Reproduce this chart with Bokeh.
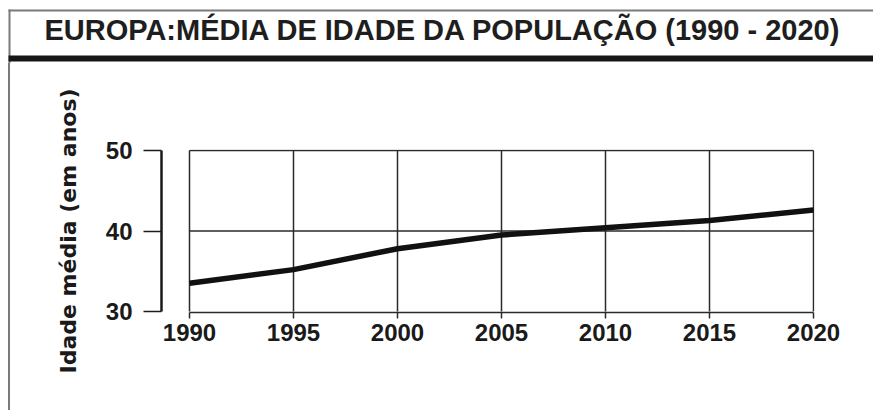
from bokeh.plotting import figure
from bokeh.models import Range1d, Label, BoxAnnotation, FixedTicker, Div
from bokeh.layouts import column, row
from bokeh.embed import file_html
from bokeh.resources import INLINE

# ---- data ----
years = [1990, 1995, 2000, 2005, 2010, 2015, 2020]
median_age = [33.5, 35.2, 37.8, 39.5, 40.4, 41.3, 42.6]
x_ticks = [1990, 1995, 2000, 2005, 2010, 2015, 2020]
y_ticks = [30, 40, 50]
y_grid = [40, 50]
title_text = "EUROPA:MÉDIA DE IDADE DA POPULAÇÃO (1990 - 2020)"
y_title = "Idade média (em anos)"

W, H = 873, 410
HEAD_H = 63
STRIP_W = 10
BORDER = "#7a7a7a"


def blank_fig(w, h):
    f = figure(width=w, height=h, output_backend="svg", toolbar_location=None,
               x_range=Range1d(0, w), y_range=Range1d(h, 0),
               x_axis_type=None, y_axis_type=None,
               min_border=0, min_border_left=0, min_border_right=0,
               min_border_top=0, min_border_bottom=0)
    f.outline_line_color = None
    f.grid.visible = False
    f.background_fill_color = "white"
    f.border_fill_color = "white"
    return f


# ---- header (title box) ----
head = blank_fig(W, HEAD_H)
head.add_layout(BoxAnnotation(left=8, right=W, top=9, bottom=11,
                              fill_color=BORDER, fill_alpha=1, line_color=None))
head.add_layout(BoxAnnotation(left=8, right=10, top=9, bottom=HEAD_H,
                              fill_color=BORDER, fill_alpha=1, line_color=None))
head.add_layout(BoxAnnotation(left=8, right=W, top=55, bottom=61,
                              fill_color="#161616", fill_alpha=1, line_color=None))
head.add_layout(Label(x=442.5, y=29, text=title_text, text_align="center",
                      text_baseline="alphabetic", text_font="Liberation Sans",
                      text_font_style="bold", text_font_size="29px", text_color="#1e1e1e"))

# ---- left border strip (plain HTML, no plot frame alignment) ----
MAIN_H = H - HEAD_H
strip = Div(text="", width=STRIP_W, height=MAIN_H, margin=(0, 0, 0, 0),
            styles={"box-sizing": "border-box", "padding": "0",
                    "border-right": "2px solid " + BORDER})

# ---- main chart ----
MW = W - STRIP_W
FL = 161 - STRIP_W      # frame left in main canvas
FR = 814 - STRIP_W
FT = 149 - HEAD_H
FB = 312 - HEAD_H

p = figure(width=MW, height=MAIN_H, output_backend="svg", toolbar_location=None,
           x_range=Range1d(1988.654, 2020.048), y_range=Range1d(29.876, 50.124),
           min_border_left=FL, min_border_right=MW - FR,
           min_border_top=FT, min_border_bottom=MAIN_H - FB)
p.outline_line_color = None
p.background_fill_color = "white"
p.border_fill_color = "white"
p.xgrid.visible = False
p.ygrid.visible = False

grid_col = "#2a2a2a"
p.segment(x0=x_ticks, y0=[y_ticks[0]] * len(x_ticks), x1=x_ticks, y1=[y_ticks[-1]] * len(x_ticks),
          line_color=grid_col, line_width=1.5)
p.segment(x0=[x_ticks[0]] * len(y_grid), y0=y_grid, x1=[x_ticks[-1]] * len(y_grid), y1=y_grid,
          line_color=grid_col, line_width=1.5)

p.line(years, median_age, line_color="#111111", line_width=5.5)

xa = p.xaxis[0]
xa.ticker = FixedTicker(ticks=x_ticks)
xa.bounds = (x_ticks[0], x_ticks[-1])
xa.major_tick_out = 6
xa.major_tick_in = 0
xa.minor_tick_out = 0
xa.minor_tick_in = 0
xa.axis_line_width = 1.5
xa.axis_line_color = grid_col
xa.major_tick_line_width = 1.5
xa.major_tick_line_color = grid_col
xa.major_label_text_font = "Liberation Sans"
xa.major_label_text_font_style = "bold"
xa.major_label_text_font_size = "24px"
xa.major_label_text_color = "#1a1a1a"
xa.major_label_standoff = 5

ya = p.yaxis[0]
ya.ticker = FixedTicker(ticks=y_ticks)
ya.bounds = (y_ticks[0], y_ticks[-1])
ya.major_tick_out = 18
ya.major_tick_in = 0
ya.minor_tick_out = 0
ya.minor_tick_in = 0
ya.axis_line_width = 2.5
ya.axis_line_color = "#1a1a1a"
ya.major_tick_line_width = 1.5
ya.major_tick_line_color = "#1a1a1a"
ya.major_label_text_font = "Liberation Sans"
ya.major_label_text_font_style = "bold"
ya.major_label_text_font_size = "24px"
ya.major_label_text_color = "#1a1a1a"
ya.major_label_standoff = 11
ya.axis_label = y_title
ya.axis_label_text_font = "DejaVu Sans"
ya.axis_label_text_font_style = "bold"
ya.axis_label_text_font_size = "22px"
ya.axis_label_text_color = "#1a1a1a"
ya.axis_label_standoff = 22

layout = column(head, row(strip, p, spacing=0), spacing=0)

open("out.html", "w").write(file_html(layout, INLINE))
